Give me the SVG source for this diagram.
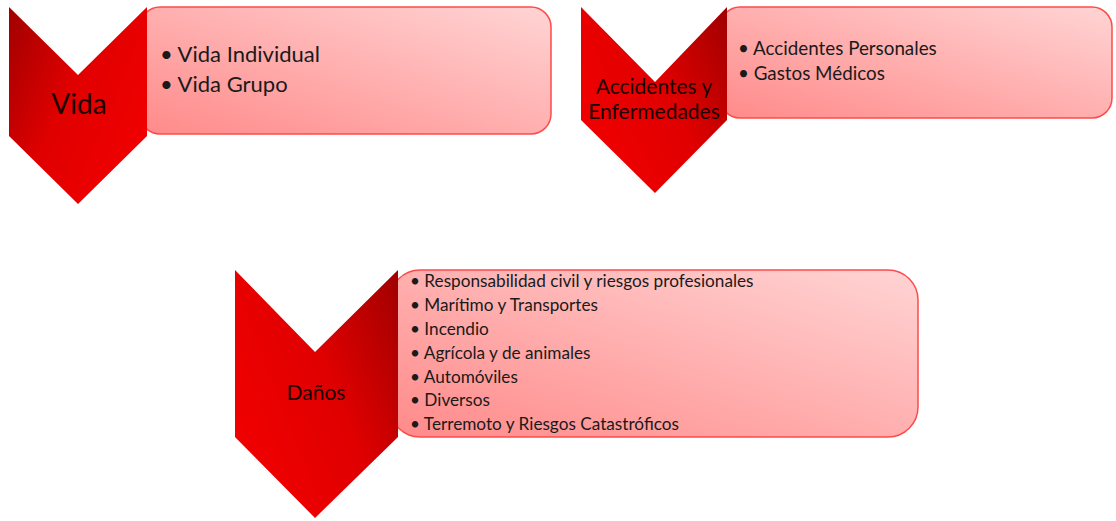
<svg xmlns="http://www.w3.org/2000/svg" width="1116" height="521" viewBox="0 0 1116 521">
<defs>
<linearGradient id="boxg" x1="0" y1="1" x2="1" y2="0">
<stop offset="0" stop-color="#ff8a8a"/>
<stop offset="1" stop-color="#ffd4d4"/>
</linearGradient>
<linearGradient id="chevL" x1="0" y1="0" x2="1" y2="0.6">
<stop offset="0" stop-color="#a00000"/>
<stop offset="0.5" stop-color="#e00000"/>
<stop offset="1" stop-color="#f00000"/>
</linearGradient>
<linearGradient id="chevR" x1="1" y1="0" x2="0" y2="0.6">
<stop offset="0" stop-color="#a00000"/>
<stop offset="0.5" stop-color="#e00000"/>
<stop offset="1" stop-color="#f00000"/>
</linearGradient>
<style>
.box{fill:url(#boxg);stroke:#ff4a4a;stroke-width:1.5}
.t{font-family:Lato,"Liberation Sans",sans-serif;fill:#1a1a1a}
.c{font-family:Lato,"Liberation Sans",sans-serif;fill:#1a0000;text-anchor:middle}
</style>
</defs>
<g id="vida">
<rect class="box" x="140" y="7" width="411" height="127" rx="20"/>
<polygon points="9,7 78,75 147,7 147,136 78,204 9,136" fill="url(#chevL)"/>
<text class="c" x="79" y="114" font-size="28">Vida</text>
<text class="t" x="160" y="62" font-size="22">• Vida Individual</text>
<text class="t" x="160" y="92" font-size="22">• Vida Grupo</text>
</g>
<g id="accidentes">
<rect class="box" x="720" y="7" width="392" height="111" rx="20"/>
<polygon points="581,7 655,82 727,7 727,120 655,193 581,120" fill="url(#chevR)"/>
<text class="c" x="654" y="94" font-size="21">Accidentes y</text>
<text class="c" x="654" y="119" font-size="21">Enfermedades</text>
<text class="t" x="738" y="55" font-size="18.8">• Accidentes Personales</text>
<text class="t" x="738" y="80" font-size="18.8">• Gastos Médicos</text>
</g>
<g id="danos">
<rect class="box" x="390" y="270" width="528" height="167" rx="30"/>
<polygon points="235,270 315,352 398,270 398,437 315,518 235,437" fill="url(#chevR)"/>
<text class="c" x="316" y="400" font-size="21">Daños</text>
<g class="t" font-size="17.2">
<text x="410" y="287">• Responsabilidad civil y riesgos profesionales</text>
<text x="410" y="311">• Marítimo y Transportes</text>
<text x="410" y="335">• Incendio</text>
<text x="410" y="359">• Agrícola y de animales</text>
<text x="410" y="383">• Automóviles</text>
<text x="410" y="406">• Diversos</text>
<text x="410" y="430">• Terremoto y Riesgos Catastróficos</text>
</g>
</g>
<g id="connectors"/>
</svg>
